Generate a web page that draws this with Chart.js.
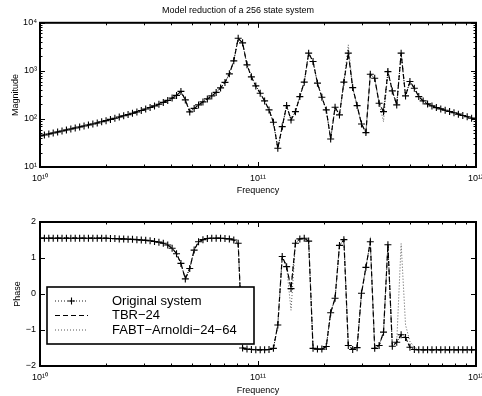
<!DOCTYPE html>
<html>
<head>
<meta charset="utf-8">
<script src="https://cdn.jsdelivr.net/npm/chart.js@4.4.1/dist/chart.umd.min.js"></script>
<style>
  body { margin: 0; background: #fff; }
  #wrap { position: relative; width: 482px; height: 396px; }
  canvas { position: absolute; left: 0; }
  #magChart { top: 0; }
  #phaseChart { top: 200px; }
</style>
</head>
<body>
<div id="wrap">
  <canvas id="magChart" width="482" height="200"></canvas>
  <canvas id="phaseChart" width="482" height="196"></canvas>
</div>
<script>
// Model reduction of a 256 state system: magnitude + phase (Bode style)

// frequency grid: 100 log-spaced samples between 1e10 and 1e12
const fStart = 1e10, fStop = 1e12, nFreq = 100;
const freq = Array.from({ length: nFreq }, (_, i) => fStart * Math.pow(fStop / fStart, i / (nFreq - 1)));

const seriesNames = ['Original system', 'TBR\u221224', 'FABT\u2212Arnoldi\u221224\u221264'];

// magnitude of original system
const magOriginal = [
  44.3, 46.4, 48.7, 51.1, 53.6, 56.2, 59.0, 61.9, 64.9, 68.1,
  71.5, 75.0, 78.7, 82.5, 87.4, 92.2, 97.7, 103.5, 109.6, 116.1,
  123.0, 130.9, 140.0, 149.6, 160.8, 172.8, 186.5, 202.4, 220.6, 242.9,
  271.2, 308.9, 374.2, 248.9, 140.0, 165.5, 195.7, 226.1, 261.0, 301.4,
  356.4, 442.4, 575.9, 866, 1616, 4755, 3831, 1334, 750, 487,
  343, 237, 154, 85.4, 24.5, 69.1, 189.3, 95.3, 141.8, 291.6,
  581.8, 2337, 1562, 554.6, 283.3, 154, 38.3, 175.3, 121.2, 581.8,
  2337, 449, 189.3, 78.7, 51.9, 853, 704, 212.4, 141.8, 966,
  383, 195.7, 2337, 301.4, 598.8, 436, 291.6, 237, 205.4, 186.5,
  171.9, 161.6, 151.8, 142.6, 134.0, 125.9, 118.3, 111.1, 103.9, 97.7
];

// phase of original system
const phaseOriginal = [
  1.55, 1.55, 1.55, 1.55, 1.55, 1.55, 1.55, 1.55, 1.55, 1.55,
  1.55, 1.55, 1.55, 1.55, 1.55, 1.55, 1.54, 1.54, 1.53, 1.53,
  1.52, 1.52, 1.51, 1.50, 1.49, 1.48, 1.46, 1.44, 1.41, 1.36,
  1.27, 1.12, 0.85, 0.42, 0.71, 1.22, 1.45, 1.51, 1.54, 1.55,
  1.55, 1.55, 1.54, 1.53, 1.50, 1.41, -1.50, -1.53, -1.54, -1.55,
  -1.55, -1.55, -1.54, -1.51, -0.86, 1.04, 0.76, 0.15, 1.41, 1.53,
  1.55, 1.47, -1.51, -1.53, -1.53, -1.46, -0.52, -0.12, 1.35, 1.51,
  -1.43, -1.54, -1.49, 0.02, 0.74, 1.45, -1.51, -1.43, -1.06, 1.37,
  -1.45, -1.34, -1.13, -1.21, -1.48, -1.54, -1.55, -1.55, -1.55, -1.55,
  -1.55, -1.55, -1.55, -1.55, -1.55, -1.55, -1.55, -1.55, -1.55, -1.55
];

// TBR-24 follows the original everywhere at this resolution
const magTBR = magOriginal.slice();
const phaseTBR = phaseOriginal.slice();

// FABT-Arnoldi-24-64 departs from the original at a few samples: [index, value]
const fabtMagChanges = [[70, 3480], [78, 88]];
const fabtPhaseChanges = [[57, -0.45], [82, 1.40], [83, -0.86], [84, -1.32], [85, -1.47]];

const magFABT = magOriginal.slice();
fabtMagChanges.forEach(([i, v]) => { magFABT[i] = v; });
const phaseFABT = phaseOriginal.slice();
fabtPhaseChanges.forEach(([i, v]) => { phaseFABT[i] = v; });

const FONT = '"Liberation Sans", Arial, Helvetica, sans-serif';
const SUP = { '0': '\u2070', '1': '\u00b9', '2': '\u00b2', '3': '\u00b3', '4': '\u2074', '5': '\u2075',
  '6': '\u2076', '7': '\u2077', '8': '\u2078', '9': '\u2079', '-': '\u207b' };

function isPow10(v) {
  const e = Math.log10(v);
  return Math.abs(e - Math.round(e)) < 1e-6;
}
function isIntMantissa(v) {
  const e = Math.floor(Math.log10(v) + 1e-9);
  const m = v / Math.pow(10, e);
  return Math.abs(m - Math.round(m)) < 1e-6;
}
function powLabel(v) {
  if (!isPow10(v)) return '';
  const e = String(Math.round(Math.log10(v)));
  return '10' + e.split('').map(c => SUP[c]).join('');
}

function points(ys) {
  return freq.map((f, i) => ({ x: f, y: ys[i] }));
}

function makeDatasets(orig, tbr, fabt) {
  return [
    {
      label: seriesNames[0], data: points(orig),
      borderColor: '#000', borderWidth: 0.9, borderDash: [1, 2],
      pointStyle: 'cross', pointRadius: 3.5, pointBorderWidth: 1.1, pointBorderColor: '#000',
      tension: 0
    },
    {
      label: seriesNames[1], data: points(tbr),
      borderColor: '#000', borderWidth: 1.2, borderDash: [5, 3],
      pointRadius: 0, tension: 0
    },
    {
      label: seriesNames[2], data: points(fabt),
      borderColor: '#444', borderWidth: 0.9, borderDash: [1, 2],
      pointRadius: 0, tension: 0
    }
  ];
}

// box, inward ticks on all four sides (MATLAB look)
const axisFrame = {
  id: 'axisFrame',
  afterDraw(chart) {
    const { ctx, chartArea: a } = chart;
    ctx.save();
    ctx.strokeStyle = '#000';
    ctx.lineWidth = 1;
    ['x', 'y'].forEach(id => {
      const s = chart.scales[id];
      const log = s.type === 'logarithmic';
      s.ticks.forEach(t => {
        if (log && !isIntMantissa(t.value)) return;
        const major = !log || isPow10(t.value);
        const len = major ? 5 : 2.5;
        const p = Math.round(s.getPixelForValue(t.value)) + 0.5;
        ctx.beginPath();
        if (id === 'x') {
          ctx.moveTo(p, a.bottom); ctx.lineTo(p, a.bottom - len);
          ctx.moveTo(p, a.top); ctx.lineTo(p, a.top + len);
        } else {
          ctx.moveTo(a.left, p); ctx.lineTo(a.left + len, p);
          ctx.moveTo(a.right, p); ctx.lineTo(a.right - len, p);
        }
        ctx.stroke();
      });
    });
    ctx.lineWidth = 2;
    ctx.strokeRect(a.left, a.top, a.right - a.left, a.bottom - a.top);
    ctx.restore();
  }
};

// boxed legend drawn inside the phase axes
const boxLegend = {
  id: 'boxLegend',
  afterDraw(chart, args, o) {
    if (!o || !o.show) return;
    const { ctx } = chart;
    ctx.save();
    ctx.fillStyle = '#fff';
    ctx.fillRect(o.left, o.top, o.width, o.height);
    ctx.lineWidth = 1.6;
    ctx.strokeStyle = '#000';
    ctx.strokeRect(o.left, o.top, o.width, o.height);
    ctx.font = o.fontSize + 'px ' + FONT;
    ctx.textBaseline = 'middle';
    chart.data.datasets.forEach((ds, i) => {
      const y = o.top + o.rows[i];
      ctx.strokeStyle = ds.borderColor;
      ctx.lineWidth = ds.borderWidth;
      ctx.setLineDash(ds.borderDash || []);
      ctx.beginPath();
      ctx.moveTo(o.lineX0, y); ctx.lineTo(o.lineX1, y);
      ctx.stroke();
      ctx.setLineDash([]);
      if (ds.pointRadius) {
        const mx = (o.lineX0 + o.lineX1) / 2, r = ds.pointRadius;
        ctx.strokeStyle = '#000';
        ctx.lineWidth = ds.pointBorderWidth;
        ctx.beginPath();
        ctx.moveTo(mx - r, y); ctx.lineTo(mx + r, y);
        ctx.moveTo(mx, y - r); ctx.lineTo(mx, y + r);
        ctx.stroke();
      }
      ctx.fillStyle = '#000';
      ctx.fillText(ds.label, o.textX, y);
    });
    ctx.restore();
  }
};

const tickFont = { family: FONT, size: 9 };
const labelFont = { family: FONT, size: 9 };

function xScale(height, titlePad) {
  return {
    type: 'logarithmic', min: fStart, max: fStop,
    grid: { display: false, drawTicks: false }, border: { display: false },
    ticks: { autoSkip: false, maxRotation: 0, padding: 6, color: '#000', font: tickFont, callback: v => powLabel(v) },
    title: { display: true, text: 'Frequency', color: '#000', font: labelFont, padding: { top: 0, bottom: titlePad } },
    afterFit: s => { s.height = height; s.paddingLeft = 0; s.paddingRight = 0; }
  };
}

function yFit(s) { s.width = 40; s.paddingTop = 0; s.paddingBottom = 0; }

new Chart(document.getElementById('magChart'), {
  type: 'line',
  data: { datasets: makeDatasets(magOriginal, magTBR, magFABT) },
  options: {
    responsive: false, animation: false, devicePixelRatio: 1,
    layout: { padding: { left: 0, right: 6, top: 0, bottom: 0 } },
    plugins: {
      legend: { display: false }, tooltip: { enabled: false },
      title: { display: true, text: 'Model reduction of a 256 state system', color: '#000',
        font: { family: FONT, size: 9, weight: 'normal' }, padding: { top: 5, bottom: 7 } }
    },
    scales: {
      x: xScale(33, 4),
      y: {
        type: 'logarithmic', min: 10, max: 10000,
        grid: { display: false, drawTicks: false }, border: { display: false },
        ticks: { autoSkip: false, padding: 3, color: '#000', font: tickFont, callback: v => powLabel(v) },
        title: { display: true, text: 'Magnitude', color: '#000', font: labelFont, padding: { top: 10, bottom: 0 } },
        afterFit: yFit
      }
    }
  },
  plugins: [axisFrame]
});

new Chart(document.getElementById('phaseChart'), {
  type: 'line',
  data: { datasets: makeDatasets(phaseOriginal, phaseTBR, phaseFABT) },
  options: {
    responsive: false, animation: false, devicePixelRatio: 1,
    layout: { padding: { left: 0, right: 6, top: 22, bottom: 0 } },
    plugins: {
      legend: { display: false }, tooltip: { enabled: false },
      boxLegend: { show: true, left: 47, top: 87, width: 207, height: 57,
        rows: [14, 28.5, 43], lineX0: 55, lineX1: 88, textX: 112, fontSize: 13 }
    },
    scales: {
      x: xScale(30, 0),
      y: {
        min: -2, max: 2,
        grid: { display: false, drawTicks: false }, border: { display: false },
        ticks: { stepSize: 1, padding: 4, color: '#000', font: tickFont,
          callback: v => (v < 0 ? '\u2212' + Math.abs(v) : String(v)) },
        title: { display: true, text: 'Phase', color: '#000', font: labelFont, padding: { top: 12, bottom: 0 } },
        afterFit: yFit
      }
    }
  },
  plugins: [axisFrame, boxLegend]
});
</script>
</body>
</html>
